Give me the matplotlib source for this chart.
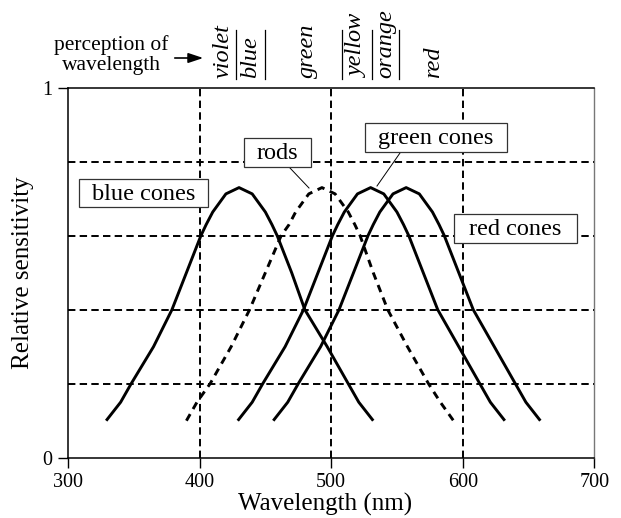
import matplotlib
matplotlib.use("Agg")
import matplotlib.pyplot as plt
from matplotlib.patches import Rectangle
from matplotlib.transforms import blended_transform_factory

plt.rcParams['font.family'] = ['Liberation Serif', 'DejaVu Serif']

# ---- data ----
blue_wl = [329, 340, 348, 365, 379, 390, 401, 405, 410, 420, 430, 440, 450, 455, 459, 470, 480, 497, 513, 521, 532]
blue_s = [0.10, 0.15, 0.20, 0.30, 0.40, 0.50, 0.60, 0.63, 0.664, 0.713, 0.73, 0.713, 0.664, 0.63, 0.60, 0.50, 0.40, 0.30, 0.20, 0.15, 0.10]

rods_wl = [390, 398, 408, 424, 438, 450, 462, 468, 473, 483, 493, 503, 513, 518, 522, 532, 543, 558, 574, 583, 593]
rods_s = [0.10, 0.15, 0.20, 0.30, 0.40, 0.50, 0.60, 0.63, 0.664, 0.713, 0.73, 0.713, 0.664, 0.63, 0.60, 0.50, 0.40, 0.30, 0.20, 0.15, 0.10]

green_wl = [429, 440, 448, 465, 479, 490, 501, 505, 510, 520, 530, 540, 550, 555, 559, 570, 581, 597, 613, 621, 632]
green_s = [0.10, 0.15, 0.20, 0.30, 0.40, 0.50, 0.60, 0.63, 0.664, 0.713, 0.73, 0.713, 0.664, 0.63, 0.60, 0.50, 0.40, 0.30, 0.20, 0.15, 0.10]

red_wl = [456, 467, 475, 492, 506, 517, 528, 532, 537, 547, 557, 567, 577, 582, 586, 597, 608, 624, 640, 648, 659]
red_s = [0.10, 0.15, 0.20, 0.30, 0.40, 0.50, 0.60, 0.63, 0.664, 0.713, 0.73, 0.713, 0.664, 0.63, 0.60, 0.50, 0.40, 0.30, 0.20, 0.15, 0.10]

x_ticks = [300, 400, 500, 600, 700]
y_ticks = [0, 1]
v_grid = [400, 500, 600]
h_grid = [0.2, 0.4, 0.6, 0.8]

color_names = ['violet', 'blue', 'green', 'yellow', 'orange', 'red']
color_pos = [418, 439, 482, 520, 541.5, 577.5]
color_dividers = [427.7, 449.7, 508, 531, 551.5]

labels = ['blue cones', 'rods', 'green cones', 'red cones']

# ---- layout helpers (pixel geometry of the reference) ----
X0, PXNM = 68.0, 1.3158      # pixel of 300 nm, pixels per nm
Y0, PXU = 457.7, 370.0       # pixel of 0, pixels per unit


def nm(px):
    return 300 + (px - X0) / PXNM


def sv(py):
    return (Y0 - py) / PXU


label_boxes = [(79, 208, 179, 207), (244, 311, 138, 167), (365, 507, 123, 152), (454, 577, 214, 243)]

# ---- figure ----
fig = plt.figure(figsize=(6.21, 5.18), dpi=100)
ax = fig.add_axes([X0/621, 1-Y0/518, (594.3-X0)/621, (Y0-87.7)/518])
ax.set_xlim(300, 700)
ax.set_ylim(0, 1)

grid_style = dict(color='black', lw=1.4, linestyle=(0, (3.8, 2.2)), zorder=1)
for v in v_grid:
    ax.axvline(v, **grid_style)
for h in h_grid:
    ax.axhline(h, **grid_style)

for wl, s in [(blue_wl, blue_s), (green_wl, green_s), (red_wl, red_s)]:
    ax.plot(wl, s, color='black', lw=2.1, zorder=3, solid_capstyle='butt', solid_joinstyle='round')
ax.plot(rods_wl, rods_s, color='black', lw=2.1, linestyle=(0, (2.6, 2.0)), zorder=3)

for name, (l, r, t, b) in zip(labels, label_boxes):
    x0, x1, y0, y1 = nm(l), nm(r), sv(b), sv(t)
    ax.add_patch(Rectangle((x0, y0), x1 - x0, y1 - y0, fc='white', ec='#333333', lw=0.9, zorder=5))
    ax.text((x0 + x1) / 2, (y0 + y1) / 2 - 0.004, name, ha='center', va='center', fontsize=17.5, zorder=6)

# leader lines
ax.plot([nm(290), nm(309)], [sv(168), sv(188)], color='black', lw=0.7, zorder=4)
ax.plot([nm(400.7), nm(377)], [sv(152), sv(186)], color='black', lw=0.7, zorder=4)

ax.set_xticks(x_ticks)
ax.set_yticks(y_ticks)
ax.tick_params(axis='both', direction='out', length=7, width=1, labelsize=14.5)
ax.tick_params(axis='x', pad=4)
ax.tick_params(axis='y', pad=4)
for s in ['left', 'bottom', 'top']:
    ax.spines[s].set_linewidth(1.1)
    ax.spines[s].set_color('black')
ax.spines['right'].set_color('#777777')
ax.spines['right'].set_linewidth(1.0)

ax.set_xlabel('Wavelength (nm)', fontsize=18)
ax.xaxis.set_label_coords((325-X0)/526.3, (Y0-511)/PXU)
ax.xaxis.label.set_va('baseline')
ax.set_ylabel('Relative sensitivity', fontsize=18)
ax.yaxis.set_label_coords((23-X0)/526.3, 0.5)
ax.yaxis.label.set_va('center')

# perception of wavelength annotation
trans = blended_transform_factory(ax.transData, ax.transAxes)
for name, x in zip(color_names, color_pos):
    ax.text(x, sv(78), name, rotation=90, ha='center', va='bottom',
            fontsize=17.5, style='italic', transform=trans, clip_on=False)
for x in color_dividers:
    ax.plot([x, x], [sv(79), sv(30)], color='black', lw=0.9,
            transform=trans, clip_on=False)

fig.text(111/621, 1-55/518, 'perception of\nwavelength', ha='center', va='center',
         fontsize=15.5, linespacing=1.05)
ax.annotate('', xy=(206/621, 1-58/518), xytext=(172/621, 1-58/518),
            xycoords='figure fraction', textcoords='figure fraction',
            arrowprops=dict(arrowstyle='-|>,head_length=0.9,head_width=0.3', color='black', lw=1.2))

fig.savefig('out.png', dpi=100)
